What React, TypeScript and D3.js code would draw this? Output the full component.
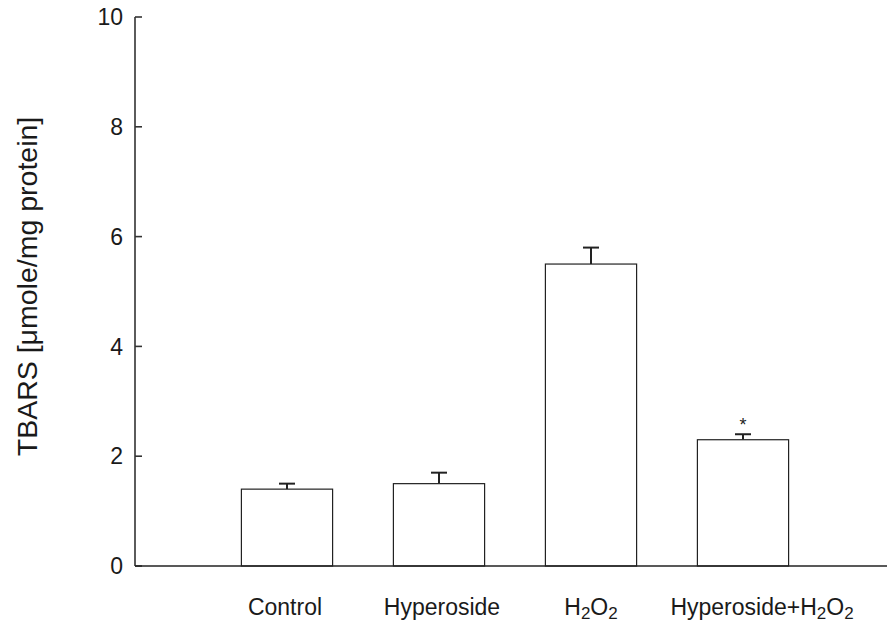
import React from "react";
import * as d3 from "d3";

const categories = ["Control", "Hyperoside", "H2O2", "Hyperoside+H2O2"];
const means = [1.4, 1.5, 5.5, 2.3];
const errors = [0.1, 0.2, 0.3, 0.1];
const significance = ["", "", "", "*"];
const yTicks = [0, 2, 4, 6, 8, 10];
const yTitle = "TBARS [\u03bcmole/mg protein]";

const W = 887;
const H = 626;
const FONT = "'Liberation Sans', Arial, Helvetica, sans-serif";
// label horizontal nudges (style, not data)
const labelShift = [-2, 3, 0, 19];

function Label({ text, x, y }: { text: string; x: number; y: number }) {
  const parts: { t: string; sub: boolean }[] = [];
  for (let i = 0; i < text.length; i++) {
    const ch = text[i];
    const sub = ch === "2" && i > 0 && (text[i - 1] === "H" || text[i - 1] === "O");
    const last = parts[parts.length - 1];
    if (last && last.sub === sub) last.t += ch;
    else parts.push({ t: ch, sub });
  }
  return (
    <text x={x} y={y} textAnchor="middle" fontSize={23} fontFamily={FONT} fill="#1a1a1a">
      {parts.map((p, i) =>
        p.sub ? (
          <tspan key={i} fontSize={17} dy={4}>{p.t}</tspan>
        ) : (
          <tspan key={i} dy={i > 0 && parts[i - 1].sub ? -4 : 0}>{p.t}</tspan>
        )
      )}
    </text>
  );
}

export default function App() {
  const x0 = 135;
  const y = d3.scaleLinear().domain([0, 10]).range([566, 17]);
  const x = d3.scalePoint<string>().domain(categories).range([x0, 895]).padding(1);
  const step = x.step();
  const bw = step * 0.6;
  const capW = 16;

  return (
    <svg width={W} height={H} style={{ position: "absolute", left: 0, top: 0, background: "#fff" }}>
      <line x1={x0} x2={x0} y1={y(10)} y2={y(0)} stroke="#333" strokeWidth={1.6} />
      {yTicks.map((t) => (
        <g key={t}>
          <line x1={x0} x2={x0 + 7} y1={y(t)} y2={y(t)} stroke="#333" strokeWidth={1.6} />
          <text x={123} y={y(t)} dy="0.36em" textAnchor="end" fontSize={23} fontFamily={FONT} fill="#1a1a1a">
            {t}
          </text>
        </g>
      ))}
      {categories.map((c, i) => {
        const cx = x(c)!;
        return (
          <g key={c}>
            <line x1={cx} x2={cx} y1={y(means[i])} y2={y(means[i] + errors[i])} stroke="#222" strokeWidth={2} />
            <line x1={cx - capW / 2} x2={cx + capW / 2} y1={y(means[i] + errors[i])} y2={y(means[i] + errors[i])} stroke="#222" strokeWidth={2} />
            <rect x={cx - bw / 2} y={y(means[i])} width={bw} height={y(0) - y(means[i])} fill="#fff" stroke="#222" strokeWidth={1.2} />
            {significance[i] && (
              <text x={cx} y={y(means[i] + errors[i]) - 3} textAnchor="middle" fontSize={18} fontFamily={FONT} fill="#222">
                {significance[i]}
              </text>
            )}
            <Label text={c} x={cx + labelShift[i]} y={615} />
          </g>
        );
      })}
      <line x1={x0} x2={W} y1={y(0)} y2={y(0)} stroke="#222" strokeWidth={1.6} />
      <text
        transform={`translate(37, 286.5) rotate(-90)`}
        textAnchor="middle"
        fontSize={28.5}
        fontFamily={FONT}
        fill="#1a1a1a"
      >
        {yTitle}
      </text>
    </svg>
  );
}
